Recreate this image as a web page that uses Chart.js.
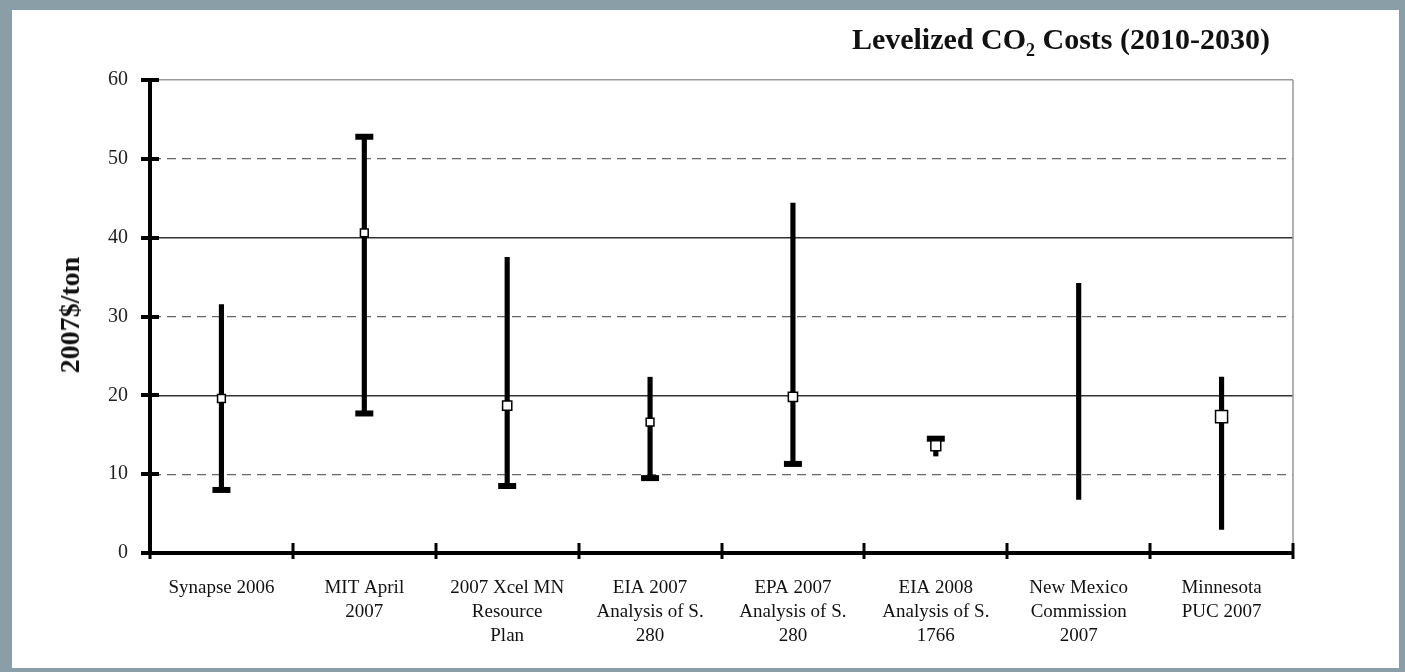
<!DOCTYPE html>
<html lang="en">
<head>
<meta charset="UTF-8">
<title>Levelized CO2 Costs</title>
<script src="https://cdn.jsdelivr.net/npm/chart.js"></script>
<style>
  html, body { margin: 0; padding: 0; }
  body { width: 1405px; height: 672px; background: #8a9ea7; position: relative; overflow: hidden; }
  .panel { position: absolute; left: 12px; top: 10px; right: 6px; bottom: 4px; background: #fff; }
  #chart { position: absolute; left: 0; top: 0; }
  .title { position: absolute; right: 135px; top: 22px; font: bold 30px "Liberation Serif", serif; color: #111; white-space: nowrap; }
  .title sub { font-size: 18px; vertical-align: -7px; line-height: 0; }
  .ytitle { position: absolute; left: 70px; top: 315px; transform: translate(-50%, -50%) rotate(-90deg);
            font: bold 28px "Liberation Serif", serif; color: #111; white-space: nowrap; }
</style>
</head>
<body>
<div class="panel"></div>
<canvas id="chart" width="1405" height="672"></canvas>
<div class="title">Levelized CO<sub>2</sub> Costs (2010-2030)</div>
<div class="ytitle">2007$/ton</div>
<script>
// categories (multi-line labels)
const studies = [
  ['Synapse 2006'],
  ['MIT April', '2007'],
  ['2007 Xcel MN', 'Resource', 'Plan'],
  ['EIA 2007', 'Analysis of S.', '280'],
  ['EPA 2007', 'Analysis of S.', '280'],
  ['EIA 2008', 'Analysis of S.', '1766'],
  ['New Mexico', 'Commission', '2007'],
  ['Minnesota', 'PUC 2007']
];
// $/ton ranges
const lowValues  = [8.0, 17.7, 8.5, 9.5, 11.3, 12.3, 6.8, 3.0];
const highValues = [31.5, 52.8, 37.5, 22.3, 44.4, 14.5, 34.2, 22.3];
const midValues  = [19.6, 40.6, 18.7, 16.6, 19.8, 13.6, null, 17.3];
const lowCaps    = [8.0, 17.7, 8.5, 9.5, 11.3, null, null, null];
const highCaps   = [null, 52.8, null, null, null, 14.5, null, null];
const yTicks = [0, 10, 20, 30, 40, 50, 60];

const markerRadius = [5.5, 5.5, 6.5, 5.5, 6.5, 7, 0, 8.5];

const serif = '"Liberation Serif", serif';

// thick crossing tick marks on both axes + grey right border
const axisMarks = {
  id: 'axisMarks',
  afterDraw(chart) {
    const { ctx, chartArea: a, scales: { x, y } } = chart;
    ctx.save();
    ctx.strokeStyle = '#999';
    ctx.lineWidth = 1.5;
    ctx.beginPath();
    ctx.moveTo(a.right, a.top);
    ctx.lineTo(a.right, a.bottom);
    ctx.stroke();

    ctx.strokeStyle = '#000';
    ctx.lineWidth = 3;
    for (let i = 0; i <= studies.length; i++) {
      const px = Math.round(x.getPixelForValue(i - 0.5));
      ctx.beginPath();
      ctx.moveTo(px, a.bottom - 10);
      ctx.lineTo(px, a.bottom + 6);
      ctx.stroke();
    }
    ctx.lineWidth = 4;
    yTicks.forEach(v => {
      const py = Math.round(y.getPixelForValue(v));
      ctx.beginPath();
      ctx.moveTo(a.left - 9, py);
      ctx.lineTo(a.left + 9, py);
      ctx.stroke();
    });
    ctx.restore();
  }
};

new Chart(document.getElementById('chart'), {
  type: 'bar',
  data: {
    labels: studies,
    datasets: [
      {
        type: 'line',
        label: 'Midpoint',
        data: midValues,
        showLine: false,
        pointStyle: 'rect',
        pointRadius: c => markerRadius[c.dataIndex],
        pointBackgroundColor: '#fff',
        pointBorderColor: '#000',
        pointBorderWidth: 1.5
      },
      {
        type: 'line',
        label: 'High cap',
        data: highCaps,
        showLine: false,
        pointStyle: 'line',
        pointRadius: 9,
        pointBorderColor: '#000',
        pointBorderWidth: 6
      },
      {
        type: 'line',
        label: 'Low cap',
        data: lowCaps,
        showLine: false,
        pointStyle: 'line',
        pointRadius: 9,
        pointBorderColor: '#000',
        pointBorderWidth: 6
      },
      {
        label: 'Range',
        data: lowValues.map((lo, i) => [lo, highValues[i]]),
        backgroundColor: '#000',
        barThickness: 4.5
      }
    ]
  },
  options: {
    responsive: false,
    animation: false,
    layout: { padding: { left: 12, top: 80, right: 112, bottom: 4 } },
    plugins: { legend: { display: false }, tooltip: { enabled: false } },
    scales: {
      x: {
        grid: { display: false },
        border: { color: '#000', width: 4 },
        ticks: { color: '#111', font: { family: serif, size: 19, lineHeight: 1.27 }, padding: 15, maxRotation: 0, autoSkip: false },
        afterFit(s) { s.height = 115; }
      },
      y: {
        min: 0,
        max: 60,
        afterBuildTicks(s) { s.ticks = yTicks.map(v => ({ value: v })); },
        grid: {
          drawTicks: false,
          color: c => {
            const v = c.tick ? c.tick.value : 0;
            if (v === 0) return 'rgba(0,0,0,0)';
            if (v === 60) return '#999';
            return v % 20 === 0 ? '#333' : '#666';
          },
          lineWidth: c => (c.tick && c.tick.value % 20 === 0 ? 1.5 : 1.2)
        },
        border: {
          color: '#000',
          width: 4,
          dash: c => (c.tick && c.tick.value % 20 !== 0 ? [9, 6] : [])
        },
        ticks: { color: '#222', font: { family: serif, size: 20 }, padding: 22 },
        afterFit(s) { s.width = 138; }
      }
    }
  },
  plugins: [axisMarks]
});
</script>
</body>
</html>
